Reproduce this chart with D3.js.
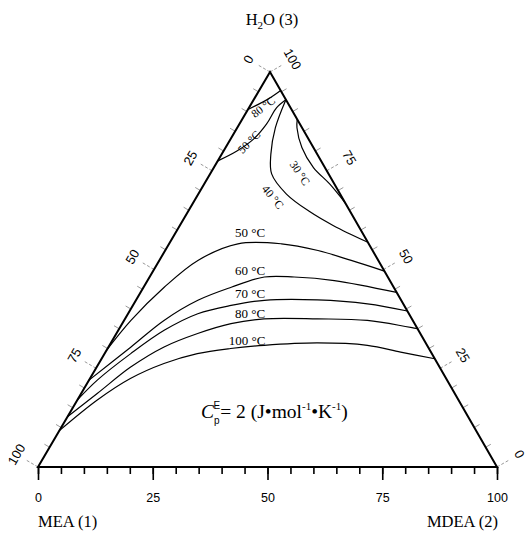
<!DOCTYPE html>
<html><head><meta charset="utf-8">
<script src="https://cdn.jsdelivr.net/npm/d3@7"></script>
<style>body{margin:0;background:#fff}svg{display:block}</style>
</head><body>
<svg id="chart" width="529" height="538"></svg>
<script>
// ---------------- DATA (ternary: [MDEA %, H2O %]) ----------------
const majorTicks = [0, 25, 50, 75, 100];
const minorTicks = [0, 5, 10, 15, 20, 25, 30, 35, 40, 45, 50, 55, 60, 65, 70, 75, 80, 85, 90, 95, 100];
const vertexNames = ["MEA (1)", "MDEA (2)", "H2O (3)"];
const curveNames = ["30 °C", "40 °C", "50 °C", "80 °C", "50 °C", "60 °C", "70 °C", "80 °C", "100 °C"];
const curve30 = [[12.0, 88.0], [13.0, 85.9], [16.6, 80.9], [21.7, 75.8], [27.4, 71.6], [33.2, 66.8]];
const curve40 = [[7.0, 93.0], [8.3, 85.9], [10.7, 79.2], [13.4, 74.2], [19.2, 69.1], [26.6, 64.6], [33.5, 61.1], [43.1, 56.9]];
const curve50a = [[0, 77.5], [2.9, 80.0], [5.0, 83.0], [5.9, 86.8], [6.0, 91.0], [7.0, 93.0]];
const curve80a = [[0, 90.5], [3.1, 93.2], [4.7, 95.3]];
const curve50b = [[0, 29.5], [1.5, 37.1], [4.5, 45.5], [8.4, 52.3], [15.0, 56.5], [24.5, 56.5], [33.3, 54.8], [41.8, 52.3], [50.4, 49.6]];
const curve60 = [[0, 22.0], [4.9, 30.4], [8.7, 37.1], [13.5, 42.2], [19.1, 45.5], [25.0, 48.1], [31.5, 48.1], [40.7, 47.2], [55.8, 44.2]];
const curve70 = [[0, 17.0], [1.8, 22.0], [5.7, 28.7], [10.0, 34.6], [15.2, 38.8], [21.4, 40.9], [28.0, 42.2], [39.5, 42.3], [50.9, 41.3], [60.5, 39.5]];
const curve80b = [[0, 12.7], [3.5, 18.6], [7.4, 25.3], [12.1, 30.4], [17.7, 33.8], [23.7, 36.3], [30.3, 37.5], [41.9, 37.5], [53.0, 37.1], [65.0, 35.0]];
const curve100 = [[0, 9.2], [4.3, 16.9], [8.8, 22.4], [14.2, 26.2], [20.2, 28.7], [26.8, 30.0], [33.7, 30.8], [45.0, 31.4], [56.2, 30.8], [64.3, 29.1], [72.6, 27.4]];
const cpValue = 2;

// ---------------- LAYOUT ----------------
const curves = [curve30, curve40, curve50a, curve80a, curve50b, curve60, curve70, curve80b, curve100];
// label placement [x, y, rotation] per curve (same order as curveNames)
const labelPlace = [[300, 173, 56], [273, 197, 50], [249, 142, -45], [263, 107, -38],
                    [250, 232, 0], [250, 270, 0], [250, 293, 0], [250, 313, 0], [247, 340, 0]];
const A = {x: 38, y: 467}, B = {x: 497, y: 467}, C = {x: 270, y: 72};

const svg = d3.select("#chart");
const xScale = d3.scaleLinear().domain([0, 100]).range([A.x, B.x]);
const yScale = d3.scaleLinear().domain([0, 100]).range([A.y, C.y]);
const skew = d3.scaleLinear().domain([0, 100]).range([0, C.x - A.x]);
const px = d => xScale(d[0]) + skew(d[1]);
const py = d => yScale(d[1]);

const serif = "'Liberation Serif','Times New Roman',serif";
const sans = "'Liberation Sans',Arial,sans-serif";

// outward normals of the left and right edges
const nL = (() => { const dx = C.x - A.x, dy = C.y - A.y, L = Math.hypot(dx, dy); return [dy / L, -dx / L]; })();
const nR = (() => { const dx = C.x - B.x, dy = C.y - B.y, L = Math.hypot(dx, dy); return [-dy / L, dx / L]; })();

// edge ticks (grey)
const gT = svg.append("g");
minorTicks.forEach(v => {
  const major = majorTicks.includes(v);
  const len = major ? 14 : 6;
  const pL = [px([0, 100 - v]), py([0, 100 - v])];
  gT.append("line").attr("x1", pL[0]).attr("y1", pL[1])
    .attr("x2", pL[0] + nL[0] * len).attr("y2", pL[1] + nL[1] * len)
    .attr("stroke", "#999").attr("stroke-width", 1).attr("stroke-dasharray", major ? "3,2" : null);
  const pR = [px([100 - v, v]), py([100 - v, v])];
  gT.append("line").attr("x1", pR[0]).attr("y1", pR[1])
    .attr("x2", pR[0] + nR[0] * len).attr("y2", pR[1] + nR[1] * len)
    .attr("stroke", "#999").attr("stroke-width", 1).attr("stroke-dasharray", major ? "3,2" : null);
});
majorTicks.forEach(v => {
  const pL = [px([0, 100 - v]), py([0, 100 - v])];
  const lx = pL[0] + nL[0] * 25, ly = pL[1] + nL[1] * 25;
  gT.append("text").attr("x", lx).attr("y", ly).attr("text-anchor", "middle")
    .attr("dominant-baseline", "central").attr("font-family", sans).attr("font-size", 13)
    .attr("transform", `rotate(-60 ${lx} ${ly})`).text(v);
  const pR = [px([100 - v, v]), py([100 - v, v])];
  const rx = pR[0] + nR[0] * 26, ry = pR[1] + nR[1] * 26;
  gT.append("text").attr("x", rx).attr("y", ry).attr("text-anchor", "middle")
    .attr("dominant-baseline", "central").attr("font-family", sans).attr("font-size", 13)
    .attr("transform", `rotate(60 ${rx} ${ry})`).text(v);
});

// bottom axis (MDEA %)
const gMinor = svg.append("g").attr("transform", `translate(0,${A.y})`)
  .call(d3.axisBottom(xScale).tickValues(minorTicks).tickSize(7).tickFormat(""));
const gMajor = svg.append("g").attr("transform", `translate(0,${A.y})`)
  .call(d3.axisBottom(xScale).tickValues(majorTicks).tickSize(13).tickPadding(13));
[gMinor, gMajor].forEach(g => {
  g.select(".domain").remove();
  g.selectAll("line").attr("stroke", "#000").attr("stroke-width", 1.6);
});
gMajor.selectAll("text").attr("font-family", sans).attr("font-size", 12.5).attr("fill", "#000");

// triangle
svg.append("path")
  .attr("d", `M${A.x},${A.y}L${B.x},${B.y}L${C.x},${C.y}Z`)
  .attr("fill", "none").attr("stroke", "#000").attr("stroke-width", 2).attr("stroke-linejoin", "miter");

// curves
const line = d3.line().x(px).y(py).curve(d3.curveCatmullRom.alpha(0.5));
svg.append("g").selectAll("path").data(curves).join("path")
  .attr("d", line).attr("fill", "none").attr("stroke", "#000").attr("stroke-width", 1.2);

// curve labels
svg.append("g").selectAll("text").data(curveNames).join("text")
  .attr("x", (d, i) => labelPlace[i][0]).attr("y", (d, i) => labelPlace[i][1])
  .attr("text-anchor", "middle").attr("dominant-baseline", "central")
  .attr("font-family", serif).attr("font-size", (d, i) => i < 4 ? 11.5 : 13)
  .attr("transform", (d, i) => `rotate(${labelPlace[i][2]} ${labelPlace[i][0]} ${labelPlace[i][1]})`)
  .text(d => d);

// vertex names
svg.append("text").attr("x", A.x).attr("y", 527).attr("font-family", serif).attr("font-size", 16.5).text(vertexNames[0]);
svg.append("text").attr("x", B.x + 1).attr("y", 527).attr("text-anchor", "end").attr("font-family", serif).attr("font-size", 16.5).text(vertexNames[1]);
const t3 = svg.append("text").attr("x", 272).attr("y", 25).attr("text-anchor", "middle").attr("font-family", serif).attr("font-size", 16.5);
t3.append("tspan").text("H");
t3.append("tspan").attr("font-size", 11).attr("dy", 4).text("2");
t3.append("tspan").attr("dy", -4).text("O (3)");

// annotation
const an = svg.append("text").attr("x", 201).attr("y", 418).attr("font-family", serif).attr("font-size", 19.5);
an.append("tspan").attr("font-style", "italic").text("C");
an.append("tspan").attr("font-family", sans).attr("font-size", 10).attr("dy", 6).text("p");
an.append("tspan").attr("font-family", sans).attr("font-size", 10).attr("dx", -6).attr("dy", -15).text("E");
an.append("tspan").attr("dy", 9).text(`= ${cpValue} (J•mol`);
an.append("tspan").attr("font-size", 11).attr("dy", -8).text("-1");
an.append("tspan").attr("dy", 8).text("•K");
an.append("tspan").attr("font-size", 11).attr("dy", -8).text("-1");
an.append("tspan").attr("dy", 8).text(")");
</script>
</body></html>
